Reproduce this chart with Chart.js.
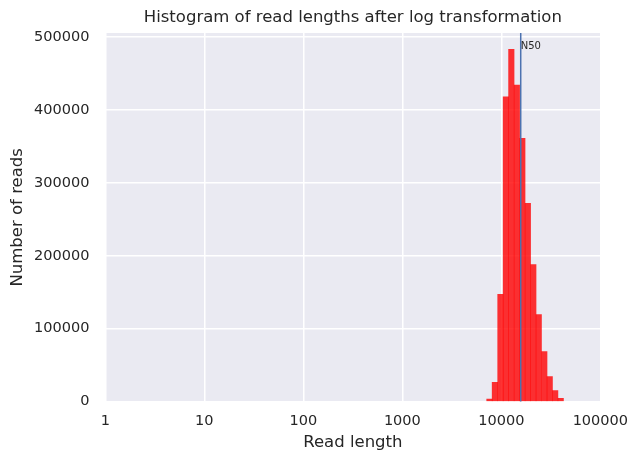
<!DOCTYPE html>
<html>
<head>
<meta charset="utf-8">
<script src="https://cdn.jsdelivr.net/npm/chart.js@4/dist/chart.umd.min.js"></script>
<style>
  html, body { margin: 0; padding: 0; background: #fff; }
  #wrap { width: 639px; height: 463px; }
</style>
</head>
<body>
<div id="wrap"><canvas id="hist"></canvas></div>
<script>
// bin centres, in log10(read length)
const binCenters = [3.880, 3.935, 3.991, 4.046, 4.101, 4.157, 4.212,
                    4.268, 4.323, 4.378, 4.434, 4.489, 4.544, 4.600];
const readCounts = [3500, 26500, 147000, 418000, 483000, 434000, 361000,
                    272000, 188000, 119500, 68700, 34300, 15100, 4500];
const xTicks = [0, 1, 2, 3, 4, 5];
const xTickLabels = ["1", "10", "100", "1000", "10000", "100000"];
const yTicks = [0, 100000, 200000, 300000, 400000, 500000];
const n50 = 15700;
const titleText = "Histogram of read lengths after log transformation";
const xLabel = "Read length";
const yLabel = "Number of reads";

const textColor = "#262626";
const font = "'DejaVu Sans', sans-serif";

const points = binCenters.map((x, i) => ({ x: x, y: readCounts[i] }));

// axes background, title + axis labels, N50 marker
const axesDeco = {
  id: "axesDeco",
  beforeDraw(chart) {
    const { ctx, chartArea: a } = chart;
    const cx = (a.left + a.right) / 2;
    const cy = (a.top + a.bottom) / 2;
    ctx.save();
    ctx.fillStyle = "#eaeaf2";
    ctx.fillRect(a.left, a.top, a.right - a.left, a.bottom - a.top);
    ctx.fillStyle = textColor;
    ctx.font = "16.5px " + font;
    ctx.textAlign = "center";
    ctx.textBaseline = "middle";
    ctx.fillText(titleText, cx, 18);
    ctx.fillText(xLabel, cx, 443);
    ctx.translate(18, cy);
    ctx.rotate(-Math.PI / 2);
    ctx.fillText(yLabel, 0, 0);
    ctx.restore();
  },
  afterDatasetsDraw(chart) {
    const { ctx, chartArea: a, scales } = chart;
    const x = scales.x.getPixelForValue(Math.log10(n50));
    ctx.save();
    ctx.strokeStyle = "#4c72b0";
    ctx.lineWidth = 1.5;
    ctx.beginPath();
    ctx.moveTo(x, a.top);
    ctx.lineTo(x, a.bottom);
    ctx.stroke();
    ctx.fillStyle = textColor;
    ctx.font = "10px " + font;
    ctx.textBaseline = "middle";
    ctx.fillText("N50", x, a.top + 13);
    ctx.restore();
  },
};

new Chart(document.getElementById("hist"), {
  type: "bar",
  data: {
    datasets: [
      {
        data: points,
        backgroundColor: "rgba(255,0,0,0.8)",
        borderWidth: 0,
        barPercentage: 1,
        categoryPercentage: 1,
      },
    ],
  },
  options: {
    responsive: true,
    maintainAspectRatio: false,
    animation: false,
    layout: { padding: { top: 33, right: 37, bottom: 22, left: 18 } },
    plugins: {
      legend: { display: false },
      tooltip: { enabled: false },
    },
    scales: {
      x: {
        type: "linear",
        min: 0,
        max: 5,
        offset: false,
        afterBuildTicks(scale) {
          scale.ticks = xTicks.map((v) => ({ value: v }));
        },
        ticks: {
          color: textColor,
          font: { family: font, size: 14.5 },
          padding: 11,
          maxRotation: 0,
          callback: (v) => xTickLabels[xTicks.indexOf(v)],
        },
        grid: { color: "#ffffff", lineWidth: 1.5, drawTicks: false, offset: false },
        border: { display: false },
      },
      y: {
        min: 0,
        max: 505500,
        afterBuildTicks(scale) {
          scale.ticks = yTicks.map((v) => ({ value: v }));
        },
        ticks: {
          color: textColor,
          font: { family: font, size: 14.5 },
          padding: 16,
          callback: (v) => String(v),
        },
        grid: { color: "#ffffff", lineWidth: 1.5, drawTicks: false },
        border: { display: false },
      },
    },
  },
  plugins: [axesDeco],
});
</script>
</body>
</html>
